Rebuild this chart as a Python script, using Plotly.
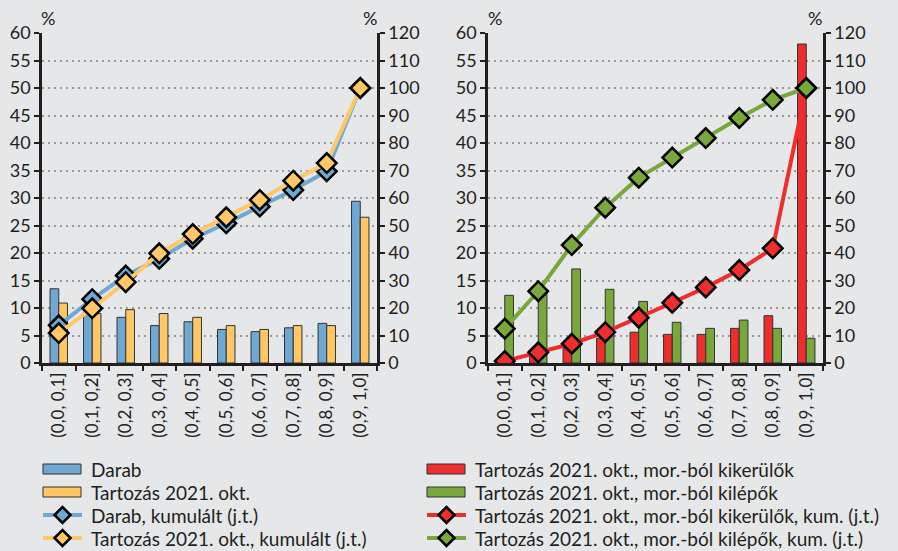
import plotly.graph_objects as go
from plotly.subplots import make_subplots

# Kategóriák (sávok)
categories = ['(0,0, 0,1]', '(0,1, 0,2]', '(0,2, 0,3]', '(0,3, 0,4]', '(0,4, 0,5]',
              '(0,5, 0,6]', '(0,6, 0,7]', '(0,7, 0,8]', '(0,8, 0,9]', '(0,9, 1,0]']

# Bal panel
darab = [13.5, 9.3, 8.3, 6.8, 7.5, 6.1, 5.7, 6.4, 7.2, 29.4]
tartozas = [10.9, 9.0, 9.7, 9.0, 8.3, 6.8, 6.1, 6.8, 6.8, 26.5]
darab_kum = [13.7, 23.2, 31.8, 37.9, 45.2, 50.8, 56.9, 62.9, 69.7, 100.0]
tartozas_kum = [10.9, 19.9, 29.4, 39.9, 46.9, 53.0, 59.3, 66.3, 72.7, 100.0]

# Jobb panel
kikerulok = [0.6, 1.5, 3.0, 4.5, 5.6, 5.2, 5.2, 6.3, 8.6, 58.0]
kilepok = [12.3, 13.3, 17.1, 13.4, 11.2, 7.4, 6.3, 7.8, 6.3, 4.5]
kikerulok_kum = [0.7, 3.9, 7.0, 11.2, 16.5, 21.9, 27.5, 33.8, 41.7, 100.0]
kilepok_kum = [12.5, 26.1, 42.9, 56.5, 67.4, 74.7, 81.8, 89.1, 95.7, 100.0]

legend_left = ['Darab', 'Tartozás 2021. okt.',
               'Darab, kumulált (j.t.)', 'Tartozás 2021. okt., kumulált (j.t.)']
legend_right = ['Tartozás 2021. okt., mor.-ból kikerülők',
                'Tartozás 2021. okt., mor.-ból kilépők',
                'Tartozás 2021. okt., mor.-ból kikerülők, kum. (j.t.)',
                'Tartozás 2021. okt., mor.-ból kilépők, kum. (j.t.)']

BLUE = '#6fa8d2'
YELLOW = '#ffc864'
RED = '#ee2d2d'
GREEN = '#78a83c'
BG = '#e6e7e9'
AXIS = '#231f20'
FONT = 'Lato, Arial, sans-serif'
W, H = 898, 551

fig = make_subplots(rows=1, cols=2, specs=[[{'secondary_y': True}, {'secondary_y': True}]])


def add_bar(y, name, color, col):
    fig.add_trace(go.Bar(x=categories, y=y, name=name, marker_color=color,
                         marker_line=dict(color='#333333', width=1)),
                  row=1, col=col, secondary_y=False)


def add_line(y, name, color, col):
    fig.add_trace(go.Scatter(x=categories, y=y, name=name, mode='lines+markers',
                             line=dict(color=color, width=4),
                             marker=dict(symbol='diamond', size=15, color=color,
                                         line=dict(color='black', width=2.5))),
                  row=1, col=col, secondary_y=True)


add_bar(darab, legend_left[0], BLUE, 1)
add_bar(tartozas, legend_left[1], YELLOW, 1)
add_line(darab_kum, legend_left[2], BLUE, 1)
add_line(tartozas_kum, legend_left[3], YELLOW, 1)

add_bar(kikerulok, legend_right[0], RED, 2)
add_bar(kilepok, legend_right[1], GREEN, 2)
add_line(kikerulok_kum, legend_right[2], RED, 2)
add_line(kilepok_kum, legend_right[3], GREEN, 2)

y_dom = [1 - 363 / H, 1 - 33 / H]
x_doms = [[42 / W, 377 / W], [488 / W, 823 / W]]

axis_common = dict(showline=True, linecolor=AXIS, linewidth=2.5, ticks='outside',
                   tickcolor=AXIS, tickwidth=2, ticklen=5, zeroline=False,
                   automargin=False, tickfont=dict(size=18, color=AXIS))

for i, dom in enumerate(x_doms):
    n = '' if i == 0 else str(i + 1)
    fig.layout['xaxis' + n].update(domain=dom, type='category', range=[-0.5, 9.5],
                                   tickson='boundaries', tickangle=-90, showgrid=False,
                                   **axis_common)
    fig.layout['xaxis' + n].tickfont = dict(size=17, color=AXIS)

fig.update_yaxes(domain=y_dom)
fig.update_yaxes(range=[0, 60], dtick=5, showgrid=True, gridcolor='#9a9a9a',
                 griddash='2px,4px', gridwidth=1.5, **axis_common, secondary_y=False)
fig.update_yaxes(range=[0, 120], dtick=10, showgrid=False, **axis_common, secondary_y=True)


def px(x, y):
    return x / W, 1 - y / H


for xp in [48, 370, 495, 815]:
    ax_, ay_ = px(xp, 18)
    fig.add_annotation(text='%', x=ax_, y=ay_, xref='paper', yref='paper',
                       xanchor='center', yanchor='middle',
                       showarrow=False, font=dict(size=18, color=AXIS))


# Jelmagyarázat kézzel (széles téglalapok, vonal + rombusz)
def legend_block(x0, labels, colors):
    rows = [469, 492, 515, 538]
    for k, (lab, col) in enumerate(zip(labels, colors)):
        yc = rows[k]
        if k < 2:
            a, b = px(x0, yc - 5)
            c, d = px(x0 + 38, yc + 5)
            fig.add_shape(type='rect', xref='paper', yref='paper', x0=a, y0=d, x1=c, y1=b,
                          fillcolor=col, line=dict(color='#333333', width=1))
        else:
            a, b = px(x0, yc)
            c, _ = px(x0 + 39, yc)
            fig.add_shape(type='line', xref='paper', yref='paper', x0=a, y0=b, x1=c, y1=b,
                          line=dict(color=col, width=4))
            cx = x0 + 19.5
            pts = [px(cx - 8, yc), px(cx, yc - 8), px(cx + 8, yc), px(cx, yc + 8)]
            path = 'M ' + ' L '.join(f'{p[0]},{p[1]}' for p in pts) + ' Z'
            fig.add_shape(type='path', xref='paper', yref='paper', path=path,
                          fillcolor=col, line=dict(color='black', width=2.5))
        tx, ty = px(x0 + 46, yc)
        fig.add_annotation(text=lab, x=tx, y=ty, xref='paper', yref='paper',
                           xanchor='left', yanchor='middle', showarrow=False,
                           font=dict(size=19, color=AXIS))


legend_block(43, legend_left, [BLUE, YELLOW, BLUE, YELLOW])
legend_block(427, legend_right, [RED, GREEN, RED, GREEN])

fig.update_layout(
    width=W, height=H,
    paper_bgcolor=BG, plot_bgcolor=BG,
    font=dict(family=FONT, color=AXIS),
    margin=dict(l=0, r=0, t=0, b=0, autoexpand=False),
    barmode='group', bargap=0.48, bargroupgap=0,
    showlegend=False,
)

fig.write_html('out.html', config={'displayModeBar': False},
               post_script="document.body.style.margin='0';"
                           "document.body.style.overflow='hidden';")
